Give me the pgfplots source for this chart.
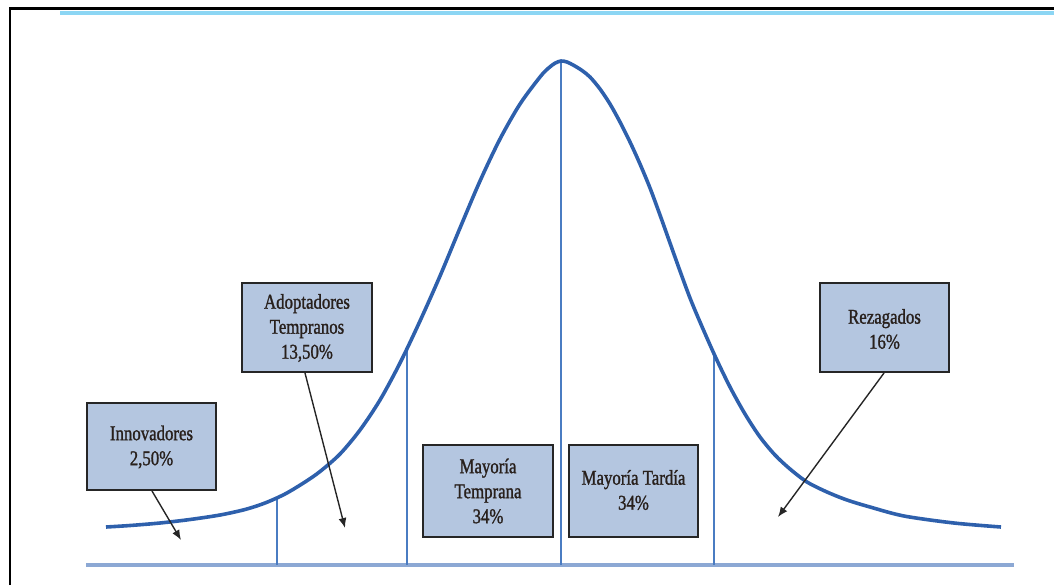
\documentclass[border=0pt]{standalone}
\usepackage{fontspec}
\setmainfont{Liberation Serif}[FakeStretch=0.8, FakeBold=1.2]
\usepackage{pgfplots}
\pgfplotsset{compat=1.18}
\usetikzlibrary{arrows.meta}
\definecolor{curveblue}{RGB}{46,96,172}
\definecolor{vblue}{RGB}{74,124,194}
\definecolor{baseblue}{RGB}{140,168,212}
\definecolor{boxfill}{RGB}{180,198,224}
\definecolor{topcyan}{RGB}{140,214,244}
\definecolor{txt}{RGB}{40,32,28}
\tikzset{
  boxst/.style={draw=black!85, line width=1.1pt, fill=boxfill},
  arr/.style={draw=black!85, line width=0.7pt, -{Latex[length=5pt,width=4pt]}},
  lbl/.style={font=\fontsize{10.5}{12.5}\selectfont, text=txt, align=center}
}
\begin{document}
\begin{tikzpicture}
\begin{axis}[
  scale only axis, width=527pt, height=292.5pt,
  xmin=0, xmax=1054, ymin=0, ymax=585, y dir=reverse,
  hide axis, clip=false
]
% frame
\draw[black, line width=1.1pt] (axis cs:10,585) -- (axis cs:10,8.5) -- (axis cs:1054,8.5);
\draw[topcyan, line width=2pt] (axis cs:60,12.5) -- (axis cs:1054,12.5);
% baseline
\addplot[baseblue, line width=2pt] coordinates {(86,565) (1014,565)};
% vertical separators
\addplot[vblue, line width=1pt] coordinates {(277,497.5) (277,565)};
\addplot[vblue, line width=1pt] coordinates {(407,348) (407,565)};
\addplot[vblue, line width=1pt] coordinates {(561,61) (561,565)};
\addplot[vblue, line width=1pt] coordinates {(714,354) (714,565)};
% bell curve
\addplot[curveblue, line width=1.8pt, smooth] coordinates {
(106,527) (130,525.5) (160,523) (190,519.5) (220,515) (245,509.5) (265,503)
(285,494) (305,482) (320,471.5) (340,454) (360,430) (380,400) (400,363)
(420,321) (440,276) (460,228) (480,181) (500,139) (520,104) (540,77)
(548,68.5) (555,63.2) (561,61) (567,62) (574,65.5) (582,70.5) (590,77) (600,89) (610,104) (620,122)
(630,142) (640,164) (650,188) (660,215) (670,243) (680,271) (690,298)
(700,322) (715,356) (730,387) (745,414) (760,437) (775,455) (790,469)
(807,482) (827,492) (847,500) (870,507) (904,516) (954,523) (1001,527)};
% boxes
\draw[boxst] (axis cs:87,403) rectangle (axis cs:216,490);
\node[lbl] at (axis cs:151.5,447) {Innovadores\\2,50\%};
\draw[boxst] (axis cs:242,283) rectangle (axis cs:372,372);
\node[lbl] at (axis cs:307,328) {Adoptadores\\Tempranos\\13,50\%};
\draw[boxst] (axis cs:423,445) rectangle (axis cs:553,537);
\node[lbl] at (axis cs:488,491) {Mayoría\\Temprana\\34\%};
\draw[boxst] (axis cs:569,445) rectangle (axis cs:698,537);
\node[lbl] at (axis cs:633.5,490) {Mayoría Tardía\\34\%};
\draw[boxst] (axis cs:820,283) rectangle (axis cs:949,372);
\node[lbl] at (axis cs:884.5,329) {Rezagados\\16\%};
% arrows
\draw[arr] (axis cs:152,491) -- (axis cs:181,540);
\draw[arr] (axis cs:305,373) -- (axis cs:345,528);
\draw[arr] (axis cs:884,373) -- (axis cs:778,517);
\end{axis}
\pgfresetboundingbox
\path (current axis.south west) rectangle (current axis.north east);
\end{tikzpicture}
\end{document}
